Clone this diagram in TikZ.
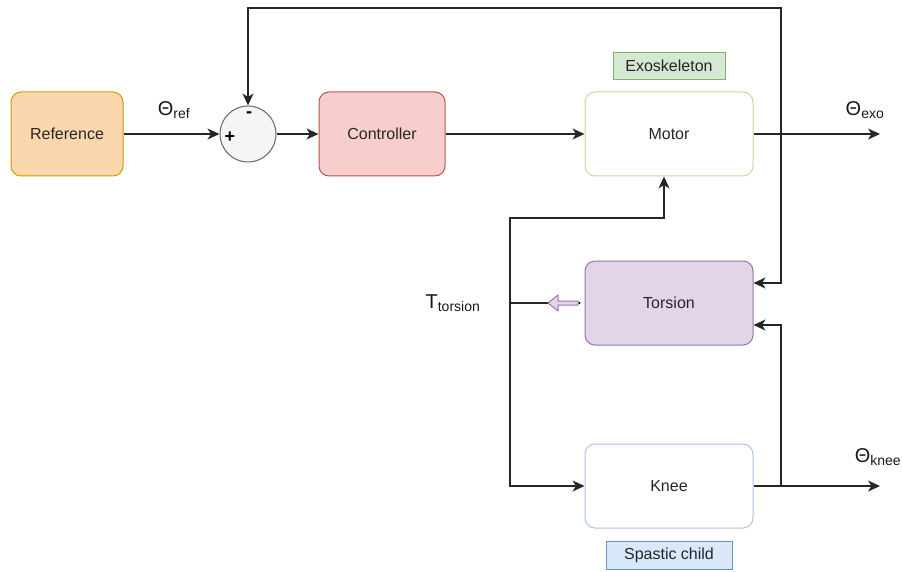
\documentclass[tikz,border=0pt]{standalone}
\usepackage{fontspec}
\setmainfont{Liberation Sans}
\usetikzlibrary{arrows.meta}
\definecolor{refF}{HTML}{FAD7AC}\definecolor{refD}{HTML}{D79B00}
\definecolor{ctlF}{HTML}{F8CECC}\definecolor{ctlD}{HTML}{B85450}
\definecolor{motD}{HTML}{B9E0A5}
\definecolor{exoF}{HTML}{D5E8D4}\definecolor{exoD}{HTML}{82B366}
\definecolor{torF}{HTML}{E1D5E7}\definecolor{torD}{HTML}{9673A6}
\definecolor{kneD}{HTML}{A9C4EB}
\definecolor{spaF}{HTML}{DAE8FC}\definecolor{spaD}{HTML}{6C8EBF}
\definecolor{sumF}{HTML}{F5F5F5}\definecolor{sumD}{HTML}{666666}
\begin{document}
\begin{tikzpicture}[x=1pt,y=-1pt,
  box/.style={draw, rounded corners=10pt, minimum width=112pt, minimum height=84pt, line width=1pt, font=\fontsize{16}{19}\selectfont, text=black!85},
  tag/.style={draw, line width=1pt, font=\fontsize{16}{19}\selectfont, text=black!85},
  lab/.style={font=\fontsize{20}{24}\selectfont, text=black!90},
  conn/.style={line width=1.3pt, black!85},
  arr/.style={conn, -{Stealth[length=12pt,width=11pt,inset=3.5pt]}}]
\useasboundingbox (0,0) rectangle (902,572);
\node[box, fill=refF, draw=refD] (ref) at (67,134) {Reference};
\node[circle, draw=sumD, fill=sumF, line width=1pt, minimum size=56pt, inner sep=0pt] (sum) at (248,134) {};
\node[font=\fontsize{18}{20}\selectfont\bfseries] (minus) at (249,115) {-};
\node[font=\fontsize{18}{20}\selectfont\bfseries] (plus) at (230,137) {+};
\node[box, fill=ctlF, draw=ctlD, minimum width=126pt] (ctl) at (382,134) {Controller};
\node[box, fill=white, draw=motD, minimum width=168pt] (mot) at (669,134) {Motor};
\node[tag, fill=exoF, draw=exoD, minimum width=112pt, minimum height=27pt] (exo) at (669,66) {Exoskeleton};
\node[box, fill=torF, draw=torD, minimum width=168pt] (tor) at (669,303) {Torsion};
\node[box, fill=white, draw=kneD, minimum width=168pt] (kne) at (669,486) {Knee};
\node[tag, fill=spaF, draw=spaD, minimum width=126pt, minimum height=28pt] (spa) at (669,555) {Spastic child};

\node[lab] (thref) at (174,110) {Θ\textsubscript{ref}};
\node[lab] (thexo) at (865,110) {Θ\textsubscript{exo}};
\node[lab] (thkne) at (878,457) {Θ\textsubscript{knee}};
\node[lab] (ttor) at (453,303) {T\textsubscript{torsion}};

\coordinate (outexo) at (880,134);
\coordinate (outkne) at (880,486);
\coordinate (jm) at (781,134);
\coordinate (jk) at (781,486);
\coordinate (h1) at (781,283);
\coordinate (h2) at (781,325);
\coordinate (jt) at (510,303);
\coordinate (tip) at (548,303);
\coordinate (mb) at (664,218);

\draw[arr] (ref.east) -- (sum.west);
\draw[arr] (sum.east) -- (ctl.west);
\draw[arr] (ctl.east) -- (mot.west);
\draw[arr] (mot.east) -- (outexo);
\draw[arr] (jm) -- (781,8) -- (248,8) -- (sum.north);
\draw[arr] (jm) -- (h1) -- (h1 -| tor.east);
\draw[arr] (kne.east) -- (outkne);
\draw[arr] (jk) -- (h2) -- (h2 -| tor.east);
\draw[arr] (jt) -- (510,218) -- (mb) -- (mb |- mot.south);
\draw[arr] (jt) -- (510,486) -- (kne.west);
\draw[conn] (jt) -- (tip);
\draw[draw=torD, fill=torF, line width=1pt, line join=round]
  (tip) -- ++(10,-8) -- ++(0,6) -- ++(20,0) -- ++(0,4) -- ++(-20,0) -- ++(0,6) -- cycle;
\fill[black] (tor.west) ++(-5,0) circle (1.2pt);
\end{tikzpicture}
\end{document}
